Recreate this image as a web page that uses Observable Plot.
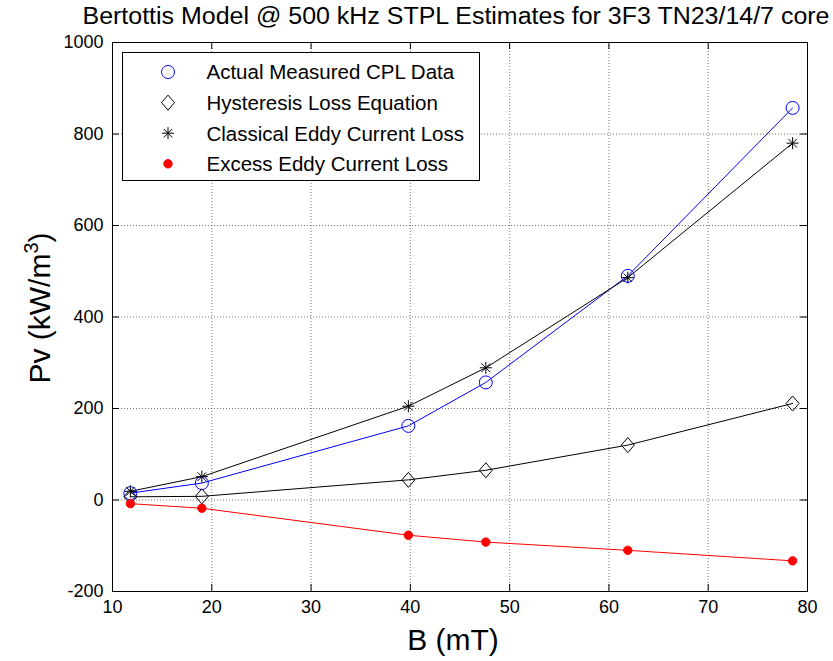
<!DOCTYPE html>
<html>
<head>
<meta charset="utf-8">
<script src="https://cdn.jsdelivr.net/npm/d3@7"></script>
<script src="https://cdn.jsdelivr.net/npm/@observablehq/plot@0.6"></script>
<style>
  body { margin: 0; background: #fff; }
  #wrap { position: relative; width: 833px; height: 661px; font-family: "Liberation Sans", Arial, sans-serif; }
  #wrap > svg { position: absolute; left: 0; top: 0; }
  #overlay { pointer-events: none; }
</style>
</head>
<body>
<div id="wrap"></div>
<script>
// ---- data ----
const B = [11.8, 19.0, 39.8, 47.6, 61.9, 78.5];
const measured = [15, 37, 162, 257, 490, 857];
const hysteresis = [7, 8, 44, 65, 120, 211];
const classical = [19, 51, 205, 289, 486, 780];
const excess = [-8, -18, -77, -92, -110, -133];
const seriesNames = ["Actual Measured CPL Data", "Hysteresis Loss Equation", "Classical Eddy Current Loss", "Excess Eddy Current Loss"];
const xTicks = [10, 20, 30, 40, 50, 60, 70, 80];
const yTicks = [-200, 0, 200, 400, 600, 800, 1000];
const titleText = "Bertottis Model @ 500 kHz STPL Estimates for 3F3 TN23/14/7 core";
const xLabel = "B (mT)";

const rows = (vals) => B.map((b, i) => ({B: b, v: vals[i]}));

// custom MATLAB-like symbols
const diamondSym = { draw(ctx, size) { const r = Math.sqrt(size / Math.PI); const w = r * 0.93, h = r * 1.07;
  ctx.moveTo(0, -h); ctx.lineTo(w, 0); ctx.lineTo(0, h); ctx.lineTo(-w, 0); ctx.closePath(); } };
const starSym = { draw(ctx, size) { const r = Math.sqrt(size / Math.PI); const d = r * 0.72;
  ctx.moveTo(-r, 0); ctx.lineTo(r, 0); ctx.moveTo(0, -r); ctx.lineTo(0, r);
  ctx.moveTo(-d, -d); ctx.lineTo(d, d); ctx.moveTo(-d, d); ctx.lineTo(d, -d); } };

const series = [
  {name: seriesNames[0], data: rows(measured), color: "#0000ff", symbol: "circle", r: 6.5, fill: "none"},
  {name: seriesNames[1], data: rows(hysteresis), color: "#000000", symbol: diamondSym, r: 7, fill: "none"},
  {name: seriesNames[2], data: rows(classical), color: "#000000", symbol: starSym, r: 6, fill: "none"},
  {name: seriesNames[3], data: rows(excess), color: "#ff0000", symbol: "circle", r: 4.2, fill: "#ff0000"}
];

const fmt = d => String(d);
const W = 833, H = 661;
const plot = Plot.plot({
  width: W, height: H,
  marginLeft: 112, marginRight: 26, marginTop: 42, marginBottom: 70,
  style: {fontSize: "18px", fontFamily: "'Liberation Sans', Arial, sans-serif", background: "#fff", color: "#000"},
  x: {domain: [10, 80], ticks: xTicks},
  y: {domain: [-200, 1000], ticks: yTicks},
  marks: [
    Plot.gridX(xTicks, {stroke: "#000", strokeOpacity: 0.55, strokeDasharray: "1,2"}),
    Plot.gridY(yTicks, {stroke: "#000", strokeOpacity: 0.55, strokeDasharray: "1,2"}),
    Plot.axisX(xTicks, {anchor: "bottom", tickSize: 0, tickPadding: 9, label: null, fontSize: 18, tickFormat: fmt}),
    Plot.axisY(yTicks, {anchor: "left", tickSize: 0, tickPadding: 9, label: null, fontSize: 18, tickFormat: fmt}),
    // inward ticks on all four sides
    Plot.ruleX(xTicks, {x: d => d, insetTop: 542, stroke: "#000"}),
    Plot.ruleX(xTicks, {x: d => d, insetBottom: 542, stroke: "#000"}),
    Plot.ruleY(yTicks, {y: d => d, insetRight: 688, stroke: "#000"}),
    Plot.ruleY(yTicks, {y: d => d, insetLeft: 688, stroke: "#000"}),
    Plot.frame({stroke: "#000"}),
    ...series.map(s => Plot.line(s.data, {x: "B", y: "v", stroke: s.color, strokeWidth: 1})),
    ...series.map(s => Plot.dot(s.data, {x: "B", y: "v", symbol: s.symbol, r: s.r, stroke: s.color, fill: s.fill, strokeWidth: 1}))
  ]
});
const wrap = document.getElementById("wrap");
wrap.appendChild(plot);

// overlay: title, axis labels, legend
const ov = d3.select(wrap).append("svg").attr("id", "overlay").attr("width", W).attr("height", H)
  .attr("font-family", "'Liberation Sans', Arial, sans-serif");

ov.append("text").attr("x", 456).attr("y", 24).attr("text-anchor", "middle").attr("font-size", 23)
  .attr("textLength", 747).attr("lengthAdjust", "spacingAndGlyphs").text(titleText);

ov.append("text").attr("x", 453).attr("y", 650).attr("text-anchor", "middle").attr("font-size", 30).text(xLabel);

const yl = ov.append("text").attr("transform", "translate(50,308) rotate(-90)").attr("text-anchor", "middle").attr("font-size", 30);
yl.append("tspan").text("Pv (kW/m");
yl.append("tspan").attr("font-size", 20).attr("dy", -12).text("3");
yl.append("tspan").attr("dy", 12).text(")");

// legend
const lg = ov.append("g").attr("transform", "translate(122.5,52.5)");
lg.append("rect").attr("width", 357).attr("height", 128).attr("fill", "#fff").attr("stroke", "#000");
series.forEach((s, i) => {
  const cy = 19.5 + i * 30.6;
  const g = lg.append("g").attr("transform", `translate(45.5,${cy})`);
  if (s.symbol === "circle") {
    g.append("circle").attr("r", s.r).attr("fill", s.fill).attr("stroke", s.color);
  } else {
    const p = d3.path(); s.symbol.draw(p, s.r * s.r * Math.PI);
    g.append("path").attr("d", p.toString()).attr("fill", "none").attr("stroke", s.color);
  }
  lg.append("text").attr("x", 84).attr("y", cy).attr("dy", "0.36em").attr("font-size", 20.5).text(s.name);
});
</script>
</body>
</html>
